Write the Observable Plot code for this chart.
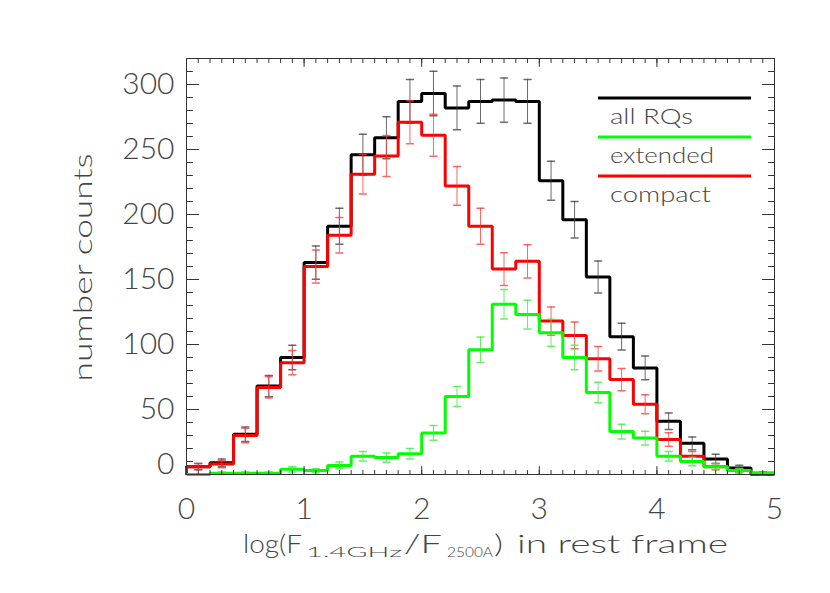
<!DOCTYPE html>
<html>
<head>
<meta charset="utf-8">
<script src="https://cdn.jsdelivr.net/npm/d3@7"></script>
<script src="https://cdn.jsdelivr.net/npm/@observablehq/plot@0.6"></script>
<style>
  body { margin: 0; background: #fff; }
  #chart { position: relative; width: 830px; height: 593px; }
  svg text { font-family: "Lato", "DejaVu Sans", sans-serif; font-weight: 300; }
</style>
</head>
<body>
<div id="chart"></div>
<script>
// ---- data ----
const binStart = [0, 0.2, 0.4, 0.6, 0.8, 1.0, 1.2, 1.4, 1.6, 1.8, 2.0, 2.2, 2.4, 2.6, 2.8, 3.0, 3.2, 3.4, 3.6, 3.8, 4.0, 4.2, 4.4, 4.6, 4.8];
const binWidth = 0.2;
const allRQs   = [6, 9, 31, 68, 90, 163, 191, 246, 259, 287, 293, 282, 287, 288, 287, 226, 196, 152, 106, 82, 41, 24, 12, 5, 1];
const allErr   = [2.4, 3, 5.6, 8.2, 9.5, 12.8, 13.8, 15.7, 16.1, 16.9, 17.1, 16.8, 16.9, 17, 16.9, 15, 14, 12.3, 10.3, 9.1, 6.4, 4.9, 3.5, 2.2, 1];
const compact  = [6, 8, 30, 67, 86, 160, 184, 231, 245, 271, 261, 222, 191, 158, 164, 118, 107, 89, 73, 54, 27, 14, 6, 3, 0];
const compErr  = [2.4, 2.8, 5.5, 8.2, 9.3, 12.6, 13.6, 15.2, 15.7, 16.5, 16.2, 14.9, 13.8, 12.6, 12.8, 10.9, 10.3, 9.4, 8.5, 7.3, 5.2, 3.7, 2.4, 1.7, 0];
const extended = [0, 1, 1, 1, 4, 3, 7, 14, 13, 16, 32, 60, 96, 131, 123, 109, 90, 63, 33, 28, 14, 10, 6, 3, 1];
const extErr   = [0, 1, 1, 1, 2, 1.7, 2.6, 3.7, 3.6, 4, 5.7, 7.7, 9.8, 11.4, 11.1, 10.4, 9.5, 7.9, 5.7, 5.3, 3.7, 3.2, 2.4, 1.7, 1];
const xTicks = [0, 1, 2, 3, 4, 5];
const yTicks = [0, 50, 100, 150, 200, 250, 300];
const seriesNames  = ["all RQs", "extended", "compact"];
const seriesColors = ["#000000", "#00ff00", "#ff0000"];
const errColors    = ["#3a3a3a", "#33ee33", "#ff3333"];
const xTitle = ["log(F", "1.4GHz", "/F", "2500A", ")", "in rest frame"];
const yTitle = "number counts";

// ---- derived tables ----
const xEnd = binStart[binStart.length - 1] + binWidth;
function steps(vals) {
  const pts = [{x: binStart[0], y: 0}];
  vals.forEach((v, i) => pts.push({x: binStart[i], y: v}));
  pts.push({x: xEnd, y: vals[vals.length - 1]});
  return pts;
}
function errs(vals, e) {
  return vals.map((v, i) => ({c: binStart[i] + binWidth / 2, lo: v - e[i], hi: v + e[i]})).filter(d => d.hi > d.lo);
}
const xMinor = d3.range(0, 50.5, 1).map(d => d / 10);
const yMinor = d3.range(0, 321, 10);

const seg = {draw(context, l) { context.moveTo(0, 0); context.lineTo(0, -l); }};
const axisColor = "#333";
const textColor = "#444";

function ticks(data, isX, len) {
  const common = {length: len, anchor: "start", shape: seg, stroke: axisColor, strokeWidth: 1};
  if (isX) return [
    Plot.vector(data, {x: d => d, frameAnchor: "bottom", rotate: 0, ...common}),
    Plot.vector(data, {x: d => d, frameAnchor: "top", rotate: 180, ...common})
  ];
  return [
    Plot.vector(data, {y: d => d, frameAnchor: "left", rotate: 90, ...common}),
    Plot.vector(data, {y: d => d, frameAnchor: "right", rotate: -90, ...common})
  ];
}

function series(vals, e, k) {
  const ed = errs(vals, e);
  return [
    Plot.line(steps(vals), {x: "x", y: "y", curve: "step-after", stroke: seriesColors[k], strokeWidth: 3, strokeLinejoin: "miter", strokeLinecap: "butt"}),
    Plot.ruleX(ed, {x: "c", y1: "lo", y2: "hi", stroke: errColors[k], strokeWidth: 1, strokeOpacity: 0.75}),
    Plot.vector(ed, {x: "c", y: "lo", rotate: 90, length: 7, anchor: "middle", shape: seg, stroke: errColors[k], strokeOpacity: 0.75}),
    Plot.vector(ed, {x: "c", y: "hi", rotate: 90, length: 7, anchor: "middle", shape: seg, stroke: errColors[k], strokeOpacity: 0.75})
  ];
}

const labelStyle = {fontSize: 30, fill: textColor, fontWeight: 300};

const chart = Plot.plot({
  width: 830,
  height: 593,
  marginLeft: 186,
  marginRight: 56,
  marginTop: 58,
  marginBottom: 119,
  style: {fontFamily: "Lato, DejaVu Sans, sans-serif", background: "#fff", overflow: "visible"},
  x: {domain: [0, 5]},
  y: {domain: [0, 320]},
  marks: [
    ...series(allRQs, allErr, 0),
    ...series(compact, compErr, 2),
    ...series(extended, extErr, 1),
    Plot.frame({stroke: axisColor, strokeWidth: 1}),
    ...ticks(xMinor, true, 4),
    ...ticks(xTicks, true, 8),
    ...ticks(yMinor, false, 6),
    ...ticks(yTicks, false, 12),
    Plot.axisX(xTicks, {anchor: "bottom", tickSize: 0, tickPadding: 23, label: null, tickFormat: d => String(d), ...labelStyle}),
    Plot.axisY(yTicks.filter(d => d !== 0), {anchor: "left", tickSize: 0, tickPadding: 12, label: null, tickFormat: d => String(d), textLength: 55, ...labelStyle}),
    Plot.axisY([0], {anchor: "left", tickSize: 0, tickPadding: 12, label: null, dy: -10, tickFormat: d => String(d), ...labelStyle})
  ]
});
document.getElementById("chart").appendChild(chart);

// ---- titles and legend ----
const svg = d3.select(chart);
const txt = (x, y, s, size, len) => svg.append("text")
  .attr("x", x).attr("y", y).attr("font-size", size).attr("font-weight", 300)
  .attr("text-anchor", "start")
  .attr("fill", textColor).attr("textLength", len).attr("lengthAdjust", "spacingAndGlyphs").text(s);

// x title pieces
txt(243, 553, xTitle[0], 26, 59);
txt(306, 557, xTitle[1], 13, 96);
txt(404, 553, xTitle[2], 26, 38);
txt(447, 557, xTitle[3], 13, 46);
txt(494, 553, xTitle[4], 26, 9);
txt(517, 553, xTitle[5], 26, 211);

// y title
svg.append("text")
  .attr("transform", "translate(92,267.5) rotate(-90)")
  .attr("text-anchor", "middle").attr("font-size", 25).attr("font-weight", 300).attr("fill", textColor)
  .attr("textLength", 228).attr("lengthAdjust", "spacingAndGlyphs").text(yTitle);

// legend
const legY = [98, 137, 176];
const legTextY = [124, 163, 202];
const legLen = [83, 104, 101];
seriesNames.forEach((name, i) => {
  svg.append("line").attr("x1", 598).attr("x2", 751).attr("y1", legY[i]).attr("y2", legY[i])
    .attr("stroke", seriesColors[i]).attr("stroke-width", 3);
  txt(610, legTextY[i], name, 21, legLen[i]);
});
</script>
</body>
</html>
